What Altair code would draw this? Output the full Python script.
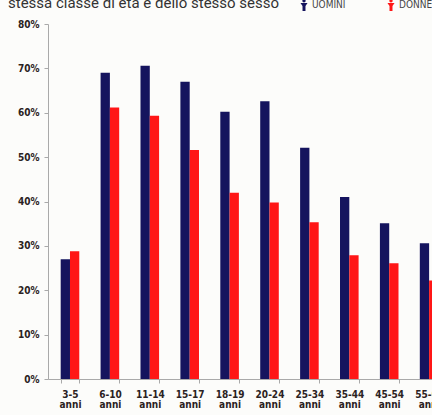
import altair as alt
import pandas as pd

categories = ["3-5", "6-10", "11-14", "15-17", "18-19", "20-24", "25-34", "35-44", "45-54", "55-64"]
uomini = [27.0, 69.0, 70.6, 67.0, 60.2, 62.6, 52.1, 41.0, 35.1, 30.6]
donne = [28.8, 61.2, 59.3, 51.6, 42.0, 39.8, 35.3, 27.9, 26.1, 22.2]
series = ["UOMINI", "DONNE"]
colors = ["#15145e", "#ff1616"]
y_ticks = [0, 10, 20, 30, 40, 50, 60, 70, 80]
title_text = "stessa classe di età e dello stesso sesso"
unit_label = "anni"

rows = []
for c, u, d in zip(categories, uomini, donne):
    rows.append({"cat": c, "sex": "UOMINI", "val": u})
    rows.append({"cat": c, "sex": "DONNE", "val": d})
df = pd.DataFrame(rows)

FONT = "Liberation Sans Narrow, DejaVu Sans Condensed, sans-serif"
TXT = "#2b2222"

person = ("M-0.28,-0.72 a0.28,0.28 0 1,0 0.56,0 a0.28,0.28 0 1,0 -0.56,0 Z "
          "M-0.6,-0.35 L0.6,-0.35 L0.25,0.15 L0.25,1 L-0.25,1 L-0.25,0.15 Z")

bars = alt.Chart(df).mark_bar().encode(
    x=alt.X("cat:N", sort=categories, title=None,
            scale=alt.Scale(range=[0, 403.1], paddingInner=0.534, paddingOuter=0.318),
            axis=alt.Axis(labelAngle=0,
                          labelExpr=f"datum.label ? [datum.label, '{unit_label}'] : ''",
                          labelFont=FONT, labelFontWeight="bold", labelFontSize=10,
                          labelLineHeight=10, labelColor=TXT, labelPadding=6,
                          domainColor="#a9a9a9", tickColor="#a9a9a9", tickSize=4,
                          tickBand="extent")),
    xOffset=alt.XOffset("sex:N", sort=series,
                        scale=alt.Scale(paddingInner=0, paddingOuter=0)),
    y=alt.Y("val:Q", title=None,
            scale=alt.Scale(domain=[0, 80], nice=False),
            axis=alt.Axis(values=y_ticks, labelExpr="datum.value + '%'",
                          labelFont=FONT, labelFontWeight="bold", labelFontSize=10,
                          labelColor=TXT, labelPadding=5, grid=False,
                          domainColor="#a9a9a9", tickColor="#a9a9a9", tickSize=4)),
    color=alt.Color("sex:N", sort=series,
                    scale=alt.Scale(domain=series, range=colors),
                    legend=alt.Legend(orient="none", legendX=250, legendY=-25,
                                      direction="horizontal", title=None,
                                      symbolType=person, symbolSize=140,
                                      symbolStrokeWidth=0, labelFont=FONT,
                                      labelFontSize=10, labelColor="#444",
                                      labelOffset=2, columnPadding=39)),
)

title_layer = alt.Chart(pd.DataFrame({"t": [title_text]})).mark_text(
    align="left", baseline="alphabetic", fontSize=15, font="Roboto", color="#333"
).encode(x=alt.value(-40), y=alt.value(-16), text="t:N")

chart = alt.layer(bars, title_layer).properties(
    width=384, height=355,
    autosize=alt.AutoSizeParams(type="none"),
    padding={"left": 48, "top": 24, "right": 0, "bottom": 36},
    background="#fcfcfa",
).configure_view(stroke=None)

chart.save("out.html", embed_options={"renderer": "svg", "actions": False})
